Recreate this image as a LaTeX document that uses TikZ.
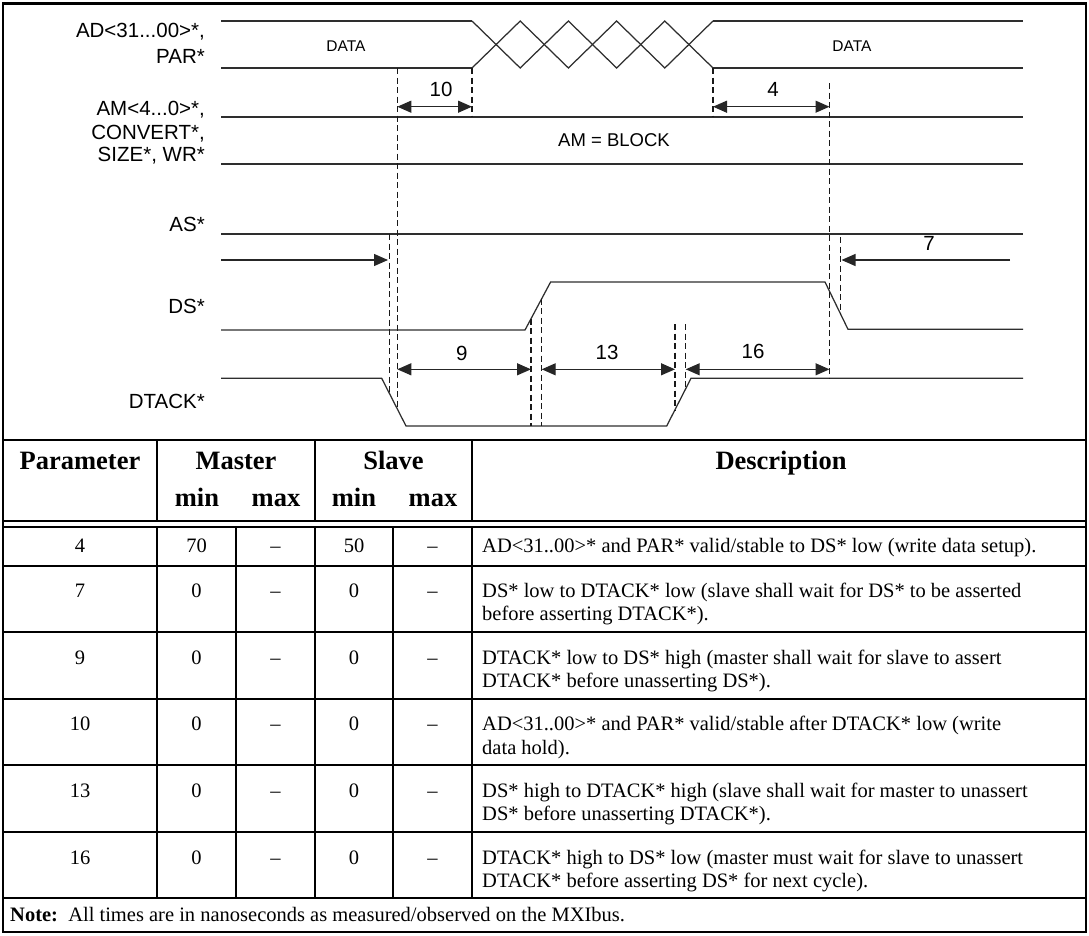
\documentclass[tikz,border=0pt]{standalone}
\usepackage{fontspec}
\setmainfont{Liberation Serif}
\newfontfamily\arialf{Liberation Sans}
\usetikzlibrary{arrows.meta}
\begin{document}
\begin{tikzpicture}[x=1pt,y=-1pt,
  sig/.style={line width=1.25pt, black!82},
  dsh/.style={line width=1.2pt, black!90, dash pattern=on 6pt off 3.5pt},
  dimarrow/.style={line width=1.25pt, black!85, {Triangle[length=14pt,width=12pt]}-{Triangle[length=14pt,width=12pt]}},
  onearrow/.style={line width=1.25pt, black!85, -{Triangle[length=14pt,width=12pt]}},
  lbl/.style={font=\arialf\fontsize{20.5}{24}\selectfont, anchor=base east, inner sep=0},
  num/.style={font=\arialf\fontsize{20.5}{24}\selectfont, anchor=base, inner sep=0},
  datalbl/.style={font=\arialf\fontsize{15.5}{18}\selectfont, anchor=base, inner sep=0},
  outerframe/.style={line width=2.4pt},
  rule/.style={line width=2pt},
  hd/.style={font=\bfseries\fontsize{26.5}{30}\selectfont, anchor=base, inner sep=0},
  cell/.style={font=\fontsize{20.5}{23.3}\selectfont, anchor=base, inner sep=0},
  desc/.style={font=\fontsize{20.5}{23.3}\selectfont, anchor=base west, inner sep=0}
]
\useasboundingbox (0,0) rectangle (1089,935);

% ---------------- frame and table rules ----------------
\draw[outerframe] (3,3.3) rectangle (1086,932);
\draw[rule] (3,440) -- (1086,440);
\draw[rule] (3,521) -- (1086,521);
\draw[rule] (3,526.5) -- (1086,526.5);
\foreach \yy in {565.5,632.2,698.8,765.4,832,898.3}
  \draw[rule] (3,\yy) -- (1086,\yy);
\foreach \xx in {157,315,472}
  \draw[rule] (\xx,440) -- (\xx,521);
\foreach \xx in {157,236,315,393,472}
  \draw[rule] (\xx,526.5) -- (\xx,898.3);

% ---------------- signal labels ----------------
\node[lbl] (lad) at (205,37.7) {AD<31...00>*,};
\node[lbl] (lpar) at (205,63.3) {PAR*};
\node[lbl] (lam) at (205,115) {AM<4...0>*,};
\node[lbl] (lconv) at (205,139.3) {CONVERT*,};
\node[lbl] (lsize) at (205,161.7) {SIZE*, WR*};
\node[lbl] (las) at (205,231.7) {AS*};
\node[lbl] (lds) at (205,313.3) {DS*};
\node[lbl] (ldt) at (205,408.3) {DTACK*};

% ---------------- AD bus ----------------
\draw[sig] (221,21) -- (472,21);
\draw[sig] (221,68) -- (472,68);
\draw[sig] (472,68) -- (520.2,21) -- (568.4,68) -- (616.6,21) -- (664.8,68) -- (713,21);
\draw[sig] (472,21) -- (520.2,68) -- (568.4,21) -- (616.6,68) -- (664.8,21) -- (713,68);
\draw[sig] (713,21) -- (1023,21);
\draw[sig] (713,68) -- (1023,68);
\node[datalbl] (data1) at (346,51.7) {DATA};
\node[datalbl] (data2) at (852,51.7) {DATA};

% ---------------- AM bus ----------------
\draw[sig] (221,117) -- (1023,117);
\draw[sig] (221,164) -- (1023,164);
\node[font=\arialf\fontsize{18.5}{21}\selectfont, anchor=base, inner sep=0] (amblock) at (614,146) {AM = BLOCK};

% ---------------- AS ----------------
\draw[sig] (221,234) -- (1023,234);

% ---------------- DS ----------------
\draw[sig] (221,330) -- (525,330) -- (550.6,282) -- (825,282) -- (848,329.3) -- (1023,329.3);

% ---------------- DTACK ----------------
\draw[sig] (221,378.3) -- (381.7,378.3) -- (406,426) -- (666.7,426) -- (691,378.3) -- (1023,378.3);

% ---------------- dashed reference lines ----------------
\coordinate (d1t) at (397.3,68);   \coordinate (d1b) at (397.3,409);
\coordinate (d2t) at (389.3,234);  \coordinate (d2b) at (389.3,393);
\coordinate (d3t) at (472,68);     \coordinate (d3b) at (472,117);
\coordinate (d4t) at (713,68);     \coordinate (d4b) at (713,117);
\coordinate (d5t) at (829.5,83);   \coordinate (d5b) at (829.5,378.3);
\coordinate (d6t) at (840.5,237);  \coordinate (d6b) at (840.5,313.9);
\coordinate (d7t) at (531,318.5);  \coordinate (d7b) at (531,426);
\coordinate (d8t) at (541.7,298.7);\coordinate (d8b) at (541.7,426);
\coordinate (d9t) at (675,324);    \coordinate (d9b) at (675,409.7);
\coordinate (d10t) at (685.7,324); \coordinate (d10b) at (685.7,388.7);
\foreach \n in {1,...,10} \draw[dsh] (d\n t) -- (d\n b);

% ---------------- timing arrows ----------------
\coordinate (a10l) at (397.3,106.7); \coordinate (a10r) at (472,106.7);
\draw[dimarrow] (a10l) -- (a10r);
\node[num] (n10) at (441,96.7) {10};

\coordinate (a4l) at (713,106.7); \coordinate (a4r) at (829.5,106.7);
\draw[dimarrow] (a4l) -- (a4r);
\node[num] (n4) at (773,96.7) {4};

\coordinate (a9l) at (397.3,369.3); \coordinate (a9r) at (531,369.3);
\draw[dimarrow] (a9l) -- (a9r);
\node[num] (n9) at (461.7,360.7) {9};

\coordinate (a13l) at (541.7,369.3); \coordinate (a13r) at (675,369.3);
\draw[dimarrow] (a13l) -- (a13r);
\node[num] (n13) at (607,359.3) {13};

\coordinate (a16l) at (685.7,369.3); \coordinate (a16r) at (829.5,369.3);
\draw[dimarrow] (a16l) -- (a16r);
\node[num] (n16) at (753,358.3) {16};

\coordinate (asl) at (221,260); \coordinate (asr) at (388,260);
\draw[onearrow] (asl) -- (asr);

\coordinate (a7s) at (1010,260); \coordinate (a7e) at (841.5,260);
\draw[onearrow] (a7s) -- (a7e);
\node[num] (n7) at (929,250.7) {7};

% ---------------- table header ----------------
\node[hd] (hpar) at (80,469) {Parameter};
\node[hd] (hmas) at (236,469) {Master};
\node[hd] (hsla) at (393.5,469) {Slave};
\node[hd] (hdes) at (781,469) {Description};
\node[hd] (hmin1) at (197,506) {min};
\node[hd] (hmax1) at (276,506) {max};
\node[hd] (hmin2) at (354,506) {min};
\node[hd] (hmax2) at (433,506) {max};

% ---------------- table rows ----------------
% row 4
\node[cell] (r4a) at (80,552) {4};
\node[cell] (r4b) at (196.5,552) {70};
\node[cell] (r4c) at (275.5,552) {\textendash};
\node[cell] (r4d) at (354,552) {50};
\node[cell] (r4e) at (432.5,552) {\textendash};
\node[desc] (r4f) at (482,552) {AD<31..00>* and PAR* valid/stable to DS* low (write data setup).};
% row 7
\node[cell] (r7a) at (80,597.5) {7};
\node[cell] (r7b) at (196.5,597.5) {0};
\node[cell] (r7c) at (275.5,597.5) {\textendash};
\node[cell] (r7d) at (354,597.5) {0};
\node[cell] (r7e) at (432.5,597.5) {\textendash};
\node[desc] (r7f) at (482,597.5) {DS* low to DTACK* low (slave shall wait for DS* to be asserted};
\node[desc] (r7g) at (482,620.8) {before asserting DTACK*).};
% row 9
\node[cell] (r9a) at (80,664.2) {9};
\node[cell] (r9b) at (196.5,664.2) {0};
\node[cell] (r9c) at (275.5,664.2) {\textendash};
\node[cell] (r9d) at (354,664.2) {0};
\node[cell] (r9e) at (432.5,664.2) {\textendash};
\node[desc] (r9f) at (482,664.2) {DTACK* low to DS* high (master shall wait for slave to assert};
\node[desc] (r9g) at (482,687.5) {DTACK* before unasserting DS*).};
% row 10
\node[cell] (r10a) at (80,730.8) {10};
\node[cell] (r10b) at (196.5,730.8) {0};
\node[cell] (r10c) at (275.5,730.8) {\textendash};
\node[cell] (r10d) at (354,730.8) {0};
\node[cell] (r10e) at (432.5,730.8) {\textendash};
\node[desc] (r10f) at (482,730.8) {AD<31..00>* and PAR* valid/stable after DTACK* low (write};
\node[desc] (r10g) at (482,754.1) {data hold).};
% row 13
\node[cell] (r13a) at (80,797.4) {13};
\node[cell] (r13b) at (196.5,797.4) {0};
\node[cell] (r13c) at (275.5,797.4) {\textendash};
\node[cell] (r13d) at (354,797.4) {0};
\node[cell] (r13e) at (432.5,797.4) {\textendash};
\node[desc] (r13f) at (482,797.4) {DS* high to DTACK* high (slave shall wait for master to unassert};
\node[desc] (r13g) at (482,820.7) {DS* before unasserting DTACK*).};
% row 16
\node[cell] (r16a) at (80,864) {16};
\node[cell] (r16b) at (196.5,864) {0};
\node[cell] (r16c) at (275.5,864) {\textendash};
\node[cell] (r16d) at (354,864) {0};
\node[cell] (r16e) at (432.5,864) {\textendash};
\node[desc] (r16f) at (482,864) {DTACK* high to DS* low (master must wait for slave to unassert};
\node[desc] (r16g) at (482,887.3) {DTACK* before asserting DS* for next cycle).};
% note
\node[desc] (note) at (10,921) {\textbf{Note:}\ \ All times are in nanoseconds as measured/observed on the MXIbus.};
\end{tikzpicture}
\end{document}
